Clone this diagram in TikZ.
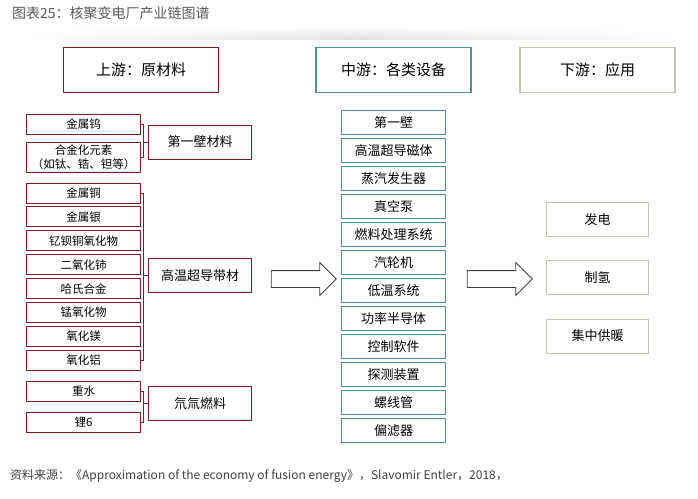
\documentclass[tikz,border=0pt]{standalone}
\usepackage{fontspec}
\setmainfont{Noto Sans CJK SC}
\usetikzlibrary{positioning, shapes.arrows, fadings}

\definecolor{upred}{HTML}{7F1D22}
\definecolor{midteal}{HTML}{4E8FA1}
\definecolor{downgray}{HTML}{C4C6B4}
\definecolor{titlegray}{HTML}{595959}

\tikzfading[name=fade sides, left color=transparent!100, right color=transparent!100, middle color=transparent!0]

\begin{document}
\begin{tikzpicture}[
        x=1pt, y=-1pt,
        node distance=3pt,
        head/.style={rectangle, draw, line width=1.2pt, minimum width=155pt, minimum height=45pt, inner sep=0pt, font=\fontsize{15}{18}\selectfont},
        item/.style={rectangle, draw=upred, line width=0.9pt, minimum width=114pt, minimum height=20pt, inner sep=0pt, align=center, font=\fontsize{11.5}{14}\selectfont},
        cat/.style={rectangle, draw=upred, line width=1pt, minimum width=103pt, minimum height=34pt, inner sep=0pt, font=\fontsize{13}{16}\selectfont},
        equip/.style={rectangle, draw=midteal, line width=1pt, minimum width=104pt, minimum height=24pt, inner sep=0pt, font=\fontsize{13}{16}\selectfont},
        app/.style={rectangle, draw=downgray, line width=1pt, minimum width=102pt, minimum height=34pt, inner sep=0pt, font=\fontsize{13}{16}\selectfont},
        bigarrow/.style={single arrow, draw=black!75, line width=0.8pt, fill=white, inner sep=8pt, single arrow head extend=8pt, minimum height=65pt},
        brk/.style={draw=upred, line width=0.8pt}
    ]
    \useasboundingbox (0,0) rectangle (698,498);
    \shade[top color=white, bottom color=black!12, path fading=fade sides] (20,27) rectangle (680,39);

    % Title and source
    \node[anchor=west, inner sep=0pt, text=titlegray, font=\fontsize{14}{16}\selectfont] (title) at (12,13) {图表25：核聚变电厂产业链图谱};
    \node[anchor=west, inner sep=0pt, text=black!75, font=\fontsize{12}{14}\selectfont] (source) at (10,476) {资料来源：《Approximation of the economy of fusion energy》，Slavomir Entler，2018，};

    % Headers
    \node[head, draw=upred] (up) at (141,70) {上游：原材料};
    \node[head, draw=midteal] (mid) at (393.5,70) {中游：各类设备};
    \node[head, draw=downgray] (down) at (597.5,70) {下游：应用};

    % Raw materials
    \node[item] (w) at (83.5,124.5) {金属钨};
    \node[item, minimum height=30pt] (alloy) at (83.5,157.5) {合金化元素\\（如钛、锆、钽等）};
    \node[item] (cu) at (83.5,193) {金属铜};
    \node[item, below=of cu] (ag) {金属银};
    \node[item, below=of ag] (ybco) {钇钡铜氧化物};
    \node[item, below=of ybco] (ceo) {二氧化铈};
    \node[item, below=of ceo] (hast) {哈氏合金};
    \node[item, below=of hast] (mno) {锰氧化物};
    \node[item, below=of mno] (mgo) {氧化镁};
    \node[item, below=of mgo] (alo) {氧化铝};
    \node[item] (dwater) at (83.5,391) {重水};
    \node[item] (li) at (83.5,422) {锂6};

    % Material groups
    \node[cat] (fw) at (200,142) {第一壁材料};
    \node[cat] (hts) at (200,275.5) {高温超导带材};
    \node[cat] (fuel) at (200,403.5) {氘氚燃料};

    % Equipment
    \node[equip] (fwall) at (393.5,122.5) {第一壁};
    \node[equip, below=of fwall] (magnet) {高温超导磁体};
    \node[equip, below=of magnet] (steam) {蒸汽发生器};
    \node[equip, below=of steam] (pump) {真空泵};
    \node[equip, below=of pump] (fuelproc) {燃料处理系统};
    \node[equip, below=of fuelproc] (turbine) {汽轮机};
    \node[equip, below=of turbine] (cryo) {低温系统};
    \node[equip, below=of cryo] (semi) {功率半导体};
    \node[equip, below=of semi] (ctrl) {控制软件};
    \node[equip, below=of ctrl] (detect) {探测装置};
    \node[equip, below=of detect] (solenoid) {螺线管};
    \node[equip, below=of solenoid] (divertor) {偏滤器};

    % Applications
    \node[app] (elec) at (597.5,219.5) {发电};
    \node[app] (hydro) at (597.5,277.5) {制氢};
    \node[app] (heat) at (597.5,336) {集中供暖};

    % Block arrows
    \node[bigarrow] (arr1) at (299.5,279) {};
    \node[bigarrow] (arr2) at (495.5,279) {};

    % Brackets
    \draw[brk] (w.east) -- ++(2,0) |- (alloy.east);
    \draw[brk] (fw.west) -- ++(-4.5,0);
    \draw[brk] (cu.east) -- ++(2,0) |- (alo.east);
    \draw[brk] (hts.west) -- ++(-4.5,0);
    \draw[brk] (dwater.east) -- ++(2,0) |- (li.east);
    \draw[brk] (fuel.west) -- ++(-4.5,0);
\end{tikzpicture}
\end{document}
